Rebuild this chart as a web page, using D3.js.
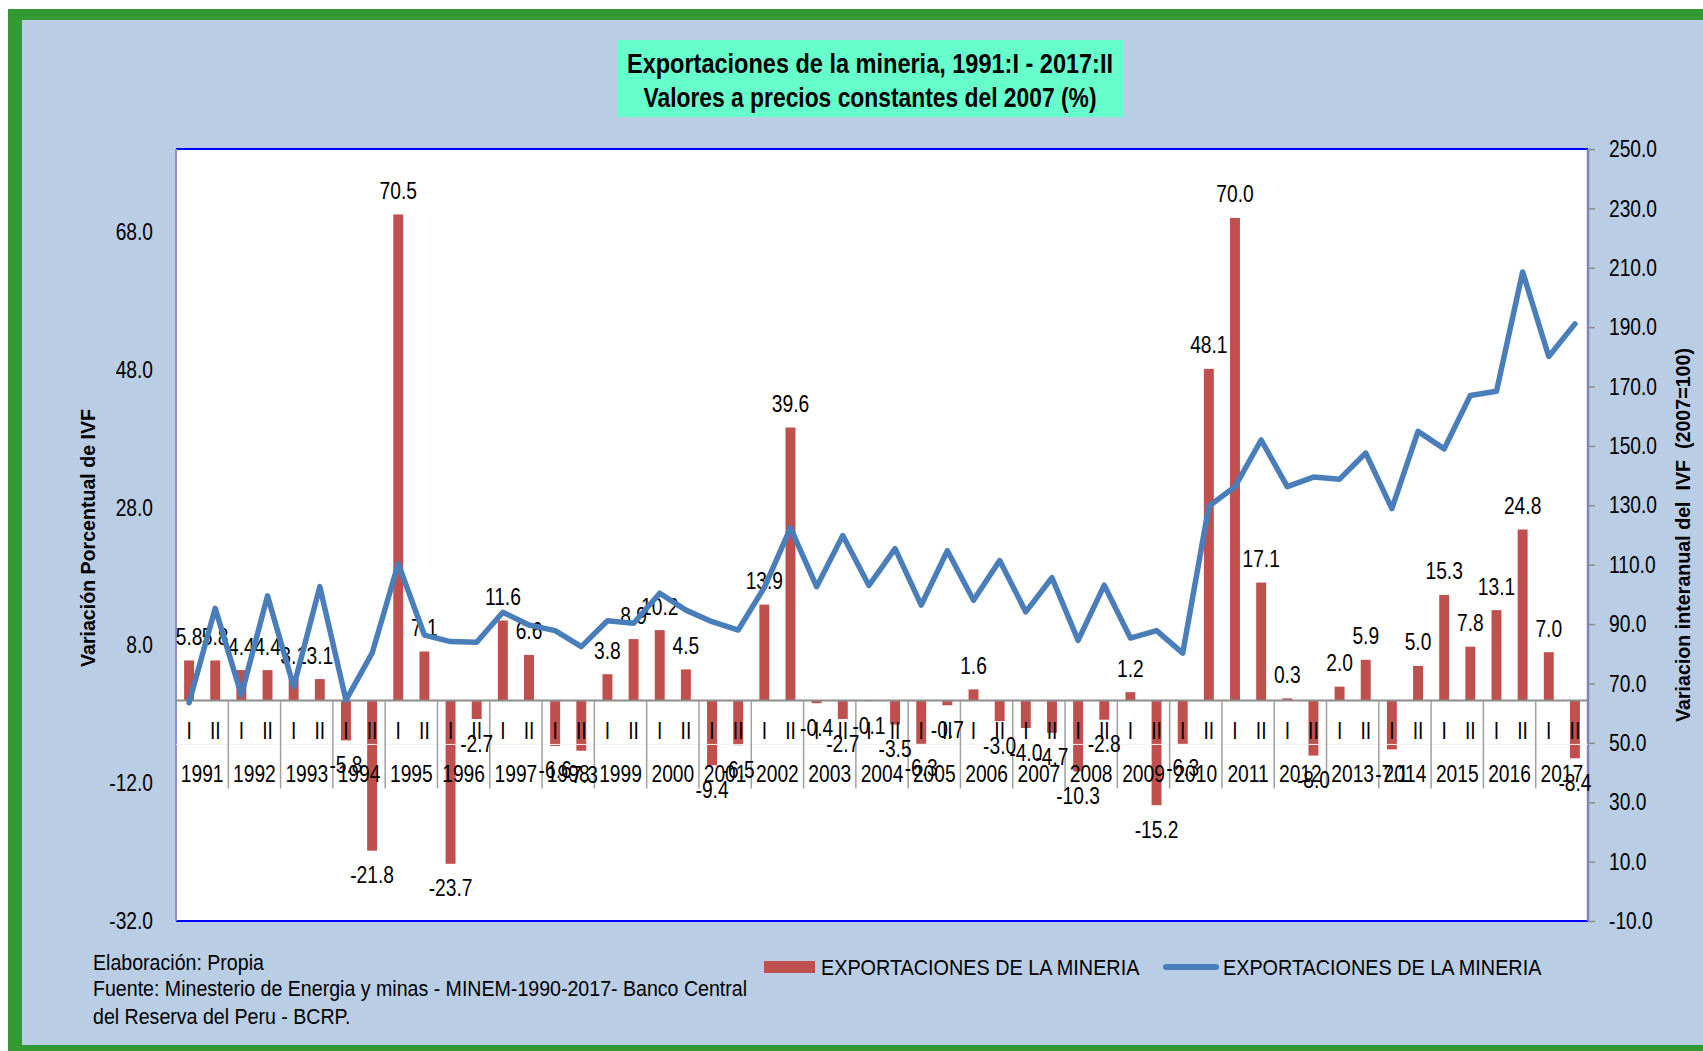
<!DOCTYPE html>
<html>
<head>
<meta charset="utf-8">
<script src="https://cdn.jsdelivr.net/npm/d3@7"></script>
<style>
body { margin: 0; background: #fff; }
svg { display: block; }
text { font-family: 'Liberation Sans', Arial, sans-serif; fill: #000; }
</style>
</head>
<body>
<div class="canvas"></div>
<script>
// data
const years = [1991, 1992, 1993, 1994, 1995, 1996, 1997, 1998, 1999, 2000, 2001, 2002, 2003, 2004,
    2005, 2006, 2007, 2008, 2009, 2010, 2011, 2012, 2013, 2014, 2015, 2016, 2017];
const halves = ['I', 'II'];

// variacion porcentual (barras, eje izq.)
const variacion = [5.8, 5.8, 4.4, 4.4, 3.1, 3.1, -5.8, -21.8, 70.5, 7.1, -23.7, -2.7, 11.6, 6.6,
    -6.6, -7.3, 3.8, 8.9, 10.2, 4.5, -9.4, -6.5, 13.9, 39.6, -0.4, -2.7, -0.1, -3.5, -6.3, -0.7,
    1.6, -3.0, -4.0, -4.7, -10.3, -2.8, 1.2, -15.2, -6.3, 48.1, 70.0, 17.1, 0.3, -8.0, 2.0, 5.9,
    -7.1, 5.0, 15.3, 7.8, 13.1, 24.8, 7.0, -8.4];

// indice IVF 2007=100 (linea, eje der.)
const indice = [63.5, 95.3, 66.1, 99.5, 68.9, 102.6, 64.4, 80.2, 110.3, 86.3, 84.1, 83.9, 94.0, 89.7,
    87.8, 82.4, 91.1, 90.3, 100.4, 94.7, 90.8, 88.0, 102.3, 122.4, 102.6, 119.8, 103.0, 115.4,
    96.4, 114.7, 98.0, 111.4, 94.1, 105.6, 84.5, 103.1, 85.3, 87.8, 80.2, 129.7, 136.3, 152.0,
    136.3, 139.5, 138.8, 147.6, 128.9, 154.9, 149.0, 167.0, 168.4, 208.6, 180.1, 191.1];

const leftTicks = [-32, -12, 8, 28, 48, 68];
const rightTicks = [-10, 10, 30, 50, 70, 90, 110, 130, 150, 170, 190, 210, 230, 250];

const title = ['Exportaciones de la mineria, 1991:I - 2017:II', 'Valores a precios constantes del 2007 (%)'];
const seriesName = 'EXPORTACIONES DE LA MINERIA';
const footer = ['Elaboración: Propia',
    'Fuente: Minesterio de Energia y minas - MINEM-1990-2017- Banco Central',
    'del Reserva del Peru - BCRP.'];

const width = 1703;
const height = 1051;
const plot = { left: 176, right: 1588, top: 149, bottom: 921 };

// plain hyphen as minus sign, like the original
const fmt = d3.formatLocale({ decimal: '.', thousands: ',', grouping: [3], currency: ['', ''], minus: '-' })
    .format('.1f');

const svg = d3.select('.canvas')
    .append('svg')
    .attr('width', width)
    .attr('height', height)
;

// squeeze text to look like Arial Narrow
const narrow = (sel, f = 0.8) => sel.each(function () {
    const w = this.getComputedTextLength();
    d3.select(this).attr('textLength', w * f).attr('lengthAdjust', 'spacingAndGlyphs');
});

// background + frame
svg.append('rect').attr('x', 8).attr('y', 9).attr('width', width).attr('height', height).attr('fill', '#339933');
svg.append('rect').attr('x', 22).attr('y', 20).attr('width', width).attr('height', 1045 - 20).attr('fill', '#b9cde5');

// title
svg.append('rect')
    .attr('x', 617).attr('y', 40).attr('width', 506).attr('height', 77)
    .attr('fill', '#66ffcc')
;
svg.selectAll('.title')
    .data(title)
    .enter()
    .append('text')
        .attr('class', 'title')
        .attr('x', 870)
        .attr('y', (d, i) => 63 + i * 34)
        .attr('dominant-baseline', 'central')
        .attr('text-anchor', 'middle')
        .attr('font-size', 28)
        .attr('font-weight', 'bold')
        .attr('textLength', (d, i) => i === 0 ? 486 : 453)
        .attr('lengthAdjust', 'spacingAndGlyphs')
        .text(d => d)
;

// scales
const cats = years.flatMap(y => halves.map(h => `${y}-${h}`));
const x = d3.scaleBand().domain(cats).range([plot.left, plot.right]).paddingInner(0.62).paddingOuter(0.31);
const xYear = d3.scaleBand().domain(years).range([plot.left, plot.right]);
const yL = d3.scaleLinear().domain([-32, 80]).range([plot.bottom, plot.top]);
const yR = d3.scaleLinear().domain([-10, 250]).range([plot.bottom, plot.top]);
const cx = i => x(cats[i]) + x.bandwidth() / 2;

svg.append('rect')
    .attr('x', plot.left).attr('y', plot.top)
    .attr('width', plot.right - plot.left).attr('height', plot.bottom - plot.top)
    .attr('fill', '#fff')
;

// axes
const leftAxis = svg.append('g')
    .attr('transform', `translate(${plot.left}, 0)`)
    .call(d3.axisLeft(yL).tickValues(leftTicks).tickSize(0).tickPadding(23).tickFormat(fmt))
;
leftAxis.select('.domain').remove();
leftAxis.selectAll('text').attr('font-size', 24).attr('font-family', null).call(narrow);

const rightAxis = svg.append('g')
    .attr('transform', `translate(${plot.right}, 0)`)
    .call(d3.axisRight(yR).tickValues(rightTicks).tickSize(7).tickPadding(14).tickFormat(fmt))
;
rightAxis.select('.domain').remove();
rightAxis.selectAll('line').attr('stroke', '#8c8c8c').attr('stroke-width', 1.5);
rightAxis.selectAll('text').attr('font-size', 24).attr('font-family', null).call(narrow);

// plot borders
svg.append('line').attr('x1', plot.left).attr('x2', plot.right).attr('y1', plot.top).attr('y2', plot.top)
    .attr('stroke', '#0000ff').attr('stroke-width', 2);
svg.append('line').attr('x1', plot.left).attr('x2', plot.right).attr('y1', plot.bottom).attr('y2', plot.bottom)
    .attr('stroke', '#0000ff').attr('stroke-width', 2);
svg.append('line').attr('x1', plot.left).attr('x2', plot.left).attr('y1', plot.top).attr('y2', plot.bottom)
    .attr('stroke', '#8f8fd0').attr('stroke-width', 2);
svg.append('line').attr('x1', plot.right).attr('x2', plot.right).attr('y1', plot.top).attr('y2', plot.bottom)
    .attr('stroke', '#8585b5').attr('stroke-width', 2.5);

// bars
svg.selectAll('.bar')
    .data(variacion)
    .enter()
    .append('rect')
        .attr('class', 'bar')
        .attr('x', (d, i) => x(cats[i]))
        .attr('y', d => yL(Math.max(0, d)))
        .attr('width', x.bandwidth())
        .attr('height', d => Math.abs(yL(d) - yL(0)))
        .attr('fill', '#c0504d')
;

// category axis
const y0 = yL(0);
svg.append('line')
    .attr('x1', plot.left).attr('x2', plot.right).attr('y1', y0 + 44).attr('y2', y0 + 44)
    .attr('stroke', '#f2f2f2').attr('stroke-width', 1)
;
svg.append('line')
    .attr('x1', plot.left).attr('x2', plot.right).attr('y1', y0).attr('y2', y0)
    .attr('stroke', '#8c8c8c').attr('stroke-width', 2)
;
svg.selectAll('.sep')
    .data(years.slice(1))
    .enter()
    .append('line')
        .attr('class', 'sep')
        .attr('x1', d => xYear(d)).attr('x2', d => xYear(d))
        .attr('y1', y0).attr('y2', y0 + 88)
        .attr('stroke', '#a0a0a0').attr('stroke-width', 1.5)
;
svg.selectAll('.half')
    .data(cats)
    .enter()
    .append('text')
        .attr('class', 'half')
        .attr('x', (d, i) => cx(i))
        .attr('y', y0 + 30)
        .attr('dominant-baseline', 'central')
        .attr('text-anchor', 'middle')
        .attr('font-size', 24)
        .text(d => d.split('-')[1])
        .call(narrow)
;
svg.selectAll('.year')
    .data(years)
    .enter()
    .append('text')
        .attr('class', 'year')
        .attr('x', d => xYear(d) + xYear.bandwidth() / 2)
        .attr('y', y0 + 73)
        .attr('dominant-baseline', 'central')
        .attr('text-anchor', 'middle')
        .attr('font-size', 24)
        .text(d => d)
        .call(narrow)
;

// data labels
svg.selectAll('.lbl')
    .data(variacion)
    .enter()
    .append('text')
        .attr('class', 'lbl')
        .attr('x', (d, i) => cx(i))
        .attr('y', d => d >= 0 ? yL(d) - 24 : yL(d) + 24)
        .attr('dominant-baseline', 'central')
        .attr('text-anchor', 'middle')
        .attr('font-size', 24)
        .text(d => fmt(d))
        .call(narrow)
;

// line
const line = d3.line()
    .x((d, i) => cx(i))
    .y(d => yR(d))
;
svg.append('path')
    .datum(indice)
    .attr('fill', 'none')
    .attr('stroke', '#4a7ebb')
    .attr('stroke-width', 5.5)
    .attr('stroke-linejoin', 'round')
    .attr('stroke-linecap', 'round')
    .attr('d', line)
;

// axis titles
svg.append('text')
    .attr('transform', 'translate(87, 538) rotate(-90)')
    .attr('text-anchor', 'middle')
    .attr('dominant-baseline', 'central')
    .attr('font-size', 21)
    .attr('font-weight', 'bold')
    .attr('textLength', 258)
    .attr('lengthAdjust', 'spacingAndGlyphs')
    .text('Variación Porcentual de IVF')
;
svg.append('text')
    .attr('transform', 'translate(1682, 535) rotate(-90)')
    .attr('text-anchor', 'middle')
    .attr('dominant-baseline', 'central')
    .attr('font-size', 21)
    .attr('font-weight', 'bold')
    .attr('textLength', 374)
    .attr('lengthAdjust', 'spacingAndGlyphs')
    .style('white-space', 'pre')
    .text('Variacion interanual del  IVF  (2007=100)')
;

// legend
svg.append('rect').attr('x', 764).attr('y', 961).attr('width', 51).attr('height', 12).attr('fill', '#c0504d');
svg.append('line').attr('x1', 1166).attr('x2', 1216).attr('y1', 967).attr('y2', 967)
    .attr('stroke', '#4a7ebb').attr('stroke-width', 6).attr('stroke-linecap', 'round');
svg.selectAll('.leg')
    .data([821, 1223])
    .enter()
    .append('text')
        .attr('class', 'leg')
        .attr('x', d => d)
        .attr('y', 967)
        .attr('dominant-baseline', 'central')
        .attr('font-size', 22)
        .text(seriesName)
        .call(narrow, 0.9)
;

// footer
svg.selectAll('.foot')
    .data(footer)
    .enter()
    .append('text')
        .attr('class', 'foot')
        .attr('x', 93)
        .attr('y', (d, i) => [962, 988, 1016][i])
        .attr('dominant-baseline', 'central')
        .attr('font-size', 22)
        .text(d => d)
        .call(narrow, 0.89)
;
</script>
</body>
</html>
